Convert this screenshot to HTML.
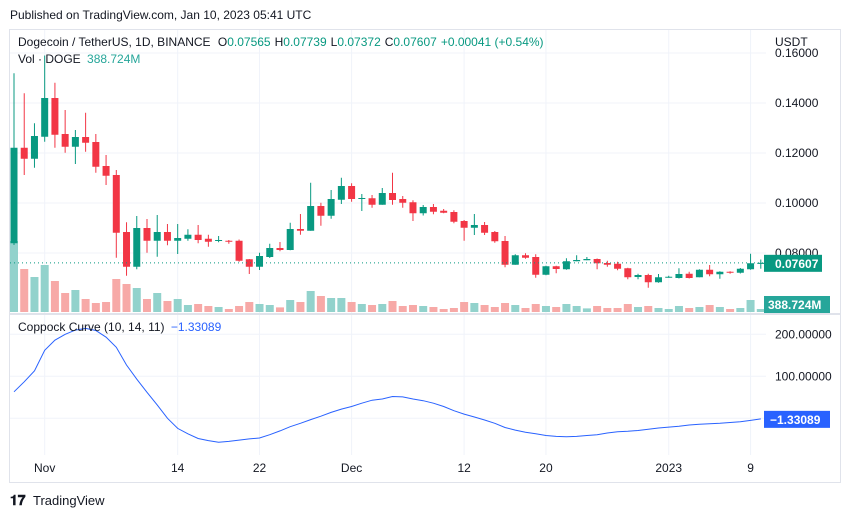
<!DOCTYPE html>
<html><head><meta charset="utf-8">
<style>
body{margin:0;background:#fff;width:851px;height:518px;overflow:hidden;font-family:"Liberation Sans",sans-serif;}
svg{display:block}
text{font-family:"Liberation Sans",sans-serif;}
</style></head>
<body>
<svg id="chart" width="851" height="518">
<text x="10" y="19" font-size="12" fill="#131722">Published on TradingView.com, Jan 10, 2023 05:41 UTC</text>
<rect x="9.5" y="29.5" width="831" height="453" fill="#fff" stroke="#e0e3eb"/>
<g id="grid"></g>
<g id="vol"></g>
<g id="candles"></g>
<g id="copp"></g>
<line x1="10" y1="314" x2="840" y2="314" stroke="#e0e3eb" stroke-width="2"/>
<g id="axes"></g>
<text x="18" y="46" font-size="12" fill="#131722">Dogecoin / TetherUS, 1D, BINANCE <tspan dx="4">O</tspan><tspan fill="#089981">0.07565</tspan><tspan dx="4">H</tspan><tspan fill="#089981">0.07739</tspan><tspan dx="4">L</tspan><tspan fill="#089981">0.07372</tspan><tspan dx="4">C</tspan><tspan fill="#089981">0.07607</tspan><tspan dx="4" fill="#089981">+0.00041 (+0.54%)</tspan></text>
<text x="18" y="63" font-size="12" fill="#131722">Vol · DOGE <tspan dx="3" fill="#26a69a">388.724M</tspan></text>
<text x="18" y="331" font-size="12" fill="#131722">Coppock Curve (10, 14, 11) <tspan dx="3" fill="#2962ff">−1.33089</tspan></text>
<text x="10" y="505" font-size="14" font-weight="bold" fill="#131722">𝟏𝟕</text>
<text x="33" y="505" font-size="13" fill="#131722">TradingView</text>
</svg>
<script>
const opens=[0.0839,0.1221,0.1177,0.1265,0.142,0.1276,0.1225,0.1264,0.1244,0.1148,0.1112,0.0884,0.0745,0.09,0.0849,0.0884,0.0849,0.0857,0.0873,0.0857,0.0848,0.0849,0.0849,0.0775,0.0745,0.0784,0.082,0.0812,0.0896,0.0889,0.0988,0.0949,0.1013,0.1068,0.1018,0.1019,0.0993,0.104,0.1016,0.1003,0.0959,0.0984,0.0969,0.0964,0.0928,0.0901,0.0912,0.0884,0.0848,0.0753,0.0791,0.0784,0.0713,0.0747,0.0735,0.0767,0.0771,0.0776,0.076,0.0757,0.0739,0.0704,0.0712,0.0683,0.0702,0.07,0.0717,0.0703,0.0733,0.0715,0.0725,0.0721,0.0735,0.07565];
const closes=[0.1221,0.1177,0.1268,0.142,0.1273,0.1225,0.1264,0.1241,0.1145,0.1109,0.0881,0.0745,0.09,0.0849,0.0884,0.0849,0.086,0.0873,0.0852,0.0845,0.0852,0.0846,0.0769,0.0745,0.0788,0.082,0.0812,0.0896,0.0889,0.0988,0.0949,0.1016,0.1068,0.1016,0.102,0.0993,0.104,0.1012,0.1001,0.0959,0.0984,0.0965,0.0961,0.0925,0.0901,0.0912,0.0881,0.0847,0.0753,0.0791,0.0781,0.0713,0.0747,0.0736,0.0767,0.0772,0.0776,0.0759,0.0753,0.0737,0.0703,0.0712,0.0683,0.0703,0.0705,0.0716,0.07,0.0733,0.0715,0.0725,0.0721,0.0737,0.0759,0.07607];
const highs=[0.1519,0.1439,0.1319,0.159,0.1481,0.1372,0.1292,0.1361,0.1276,0.1192,0.1132,0.0923,0.0948,0.0936,0.0952,0.0916,0.0916,0.0895,0.0912,0.0873,0.0868,0.0852,0.0854,0.0776,0.0801,0.0837,0.0844,0.0921,0.0956,0.1081,0.1001,0.1052,0.1101,0.1079,0.1036,0.1032,0.106,0.1121,0.1028,0.1011,0.0992,0.0996,0.0976,0.0971,0.0932,0.0956,0.0924,0.0888,0.0868,0.0795,0.0799,0.0795,0.0749,0.0749,0.0779,0.0791,0.0784,0.0778,0.0769,0.0765,0.0741,0.0717,0.0717,0.0716,0.0709,0.0739,0.0725,0.0735,0.0752,0.0727,0.0727,0.074,0.0797,0.07739];
const lows=[0.0832,0.1112,0.1141,0.1245,0.1221,0.1201,0.1156,0.1205,0.1121,0.1072,0.0781,0.0709,0.0735,0.0801,0.0785,0.0831,0.0796,0.0849,0.0839,0.0825,0.0843,0.0837,0.0765,0.0716,0.0732,0.078,0.0807,0.0811,0.0873,0.0889,0.0909,0.0937,0.0996,0.1005,0.0968,0.0981,0.0993,0.0993,0.0981,0.0928,0.095,0.0955,0.0959,0.0919,0.0849,0.0872,0.0872,0.0841,0.0743,0.0753,0.0777,0.0701,0.0711,0.0719,0.0733,0.0767,0.0771,0.0735,0.0745,0.0731,0.0695,0.0695,0.0661,0.0681,0.0701,0.0698,0.0698,0.0703,0.0707,0.0697,0.0717,0.0718,0.0733,0.07372];
const volumes=[9230,5590,4550,6110,4030,2470,2860,1690,1170,1300,4290,3640,3120,1690,2470,1430,1690,910,1040,780,650,390,780,1300,1040,910,600,1560,1300,2730,2080,1820,1820,1300,1040,910,1040,1430,780,910,780,650,390,520,1300,1170,910,650,1170,910,520,1040,780,650,1040,780,470,780,520,520,1040,650,780,520,390,780,520,650,910,650,390,520,1560,389];
const coppock=[63,87,113,162,186,200,210,214,209,193,169,127,93,62,32,0,-24,-37,-48,-53,-57,-55,-52,-49,-47,-39,-30,-20,-12,-3,5,14,22,28,36,43,46,52,51,46,42,36,28,18,10,3,-4,-12,-22,-28,-33,-37,-41,-43,-44,-43,-41,-39,-35,-32,-31,-29,-26,-23,-21,-19,-16,-14,-13,-12,-10,-8,-5,-1.33089];
const priceTicks=[0.08,0.10,0.12,0.14,0.16];
const coppTicks=[0,100,200];
const dateLabels=["Nov","14","22","Dec","12","20","2023","9"];
const dateIdx=[3,16,24,33,44,52,64,72];

const NS="http://www.w3.org/2000/svg";
const xOf=i=>14+i*10.23;
const yP=p=>253-(p-0.08)*2500;
const yV=v=>312-v/130;
const yC=c=>418.3-c*0.42;
const UP="#089981",DN="#f23645";
function mk(parent,tag,attrs){const e=document.createElementNS(NS,tag);for(const k in attrs)e.setAttribute(k,attrs[k]);document.getElementById(parent).appendChild(e);return e;}

// grid
priceTicks.forEach(p=>{const y=yP(p);
 const l=mk('grid','line',{x1:10,x2:766,y1:y,y2:y,stroke:'#f0f3fa'});
 
 
 const t=mk('axes','text',{x:775,y:y+4,'font-size':12,fill:'#131722'});t.textContent=p.toFixed(5);
 
 
});
coppTicks.forEach(c=>{const y=yC(c);
 const l=mk('grid','line',{x1:10,x2:766,y1:y,y2:y,stroke:'#f0f3fa'});
 
 
 if(c!==0){const t=mk('axes','text',{x:775,y:y+4,'font-size':12,fill:'#131722'});t.textContent=c.toFixed(5);
 
 }
});
dateIdx.forEach((d,k)=>{const x=xOf(d);
 const l=mk('grid','line',{x1:x,x2:x,y1:30,y2:455,stroke:'#f0f3fa'});
 
 
 const t=mk('axes','text',{x:x,y:472,'font-size':12,fill:'#131722','text-anchor':'middle'});t.textContent=dateLabels[k];
 
 
});
// usdt label
{const t=mk('axes','text',{x:775,y:46,'font-size':12,fill:'#131722'});t.textContent='USDT';

}

// volume
volumes.forEach((v,i)=>{const up=closes[i]>=opens[i];const y=yV(v);
 const r=mk('vol','rect',{x:xOf(i)-4,y:y,width:8,height:312-y,fill:up?'#92d2cc':'#f7a9a7'});
 
 
});
// candles
opens.forEach((o,i)=>{const c=closes[i];const up=c>=o;const col=up?UP:DN;const x=xOf(i);
 const w=mk('candles','line',{x1:x,x2:x,y1:yP(highs[i]),y2:yP(lows[i]),stroke:col,'stroke-width':1});
 
 
 const t=Math.min(yP(o),yP(c)),b=Math.max(yP(o),yP(c));
 const r=mk('candles','rect',{x:x-3.5,y:t,width:7,height:Math.max(1,b-t),fill:col});
 
 
});
// last price line
{const y=yP(closes[closes.length-1]);
const l=mk('candles','line',{x1:10,x2:766,y1:y,y2:y,stroke:UP,'stroke-dasharray':'1 3'});


const r=mk('axes','rect',{x:764,y:y-8,width:58,height:17,fill:UP});


const t=mk('axes','text',{x:775,y:y+5,'font-size':12,'font-weight':'bold',fill:'#fff'});t.textContent=closes[closes.length-1].toFixed(5);


const vy=yV(volumes[volumes.length-1]);
const r2=mk('axes','rect',{x:764,y:296,width:66,height:17,fill:'#26a69a'});


const t2=mk('axes','text',{x:768,y:309,'font-size':12,'font-weight':'bold',fill:'#fff'});t2.textContent='388.724M';

}
// coppock
{const d=coppock.map((c,i)=>(i?'L':'M')+xOf(i).toFixed(1)+' '+yC(c).toFixed(1)).join(' ');
const p=mk('copp','path',{d:d,fill:'none',stroke:'#2962ff','stroke-width':1});


const y=yC(coppock[coppock.length-1]);
const r=mk('axes','rect',{x:764,y:y-8,width:66,height:17,fill:'#2962ff'});


const t=mk('axes','text',{x:770,y:y+5,'font-size':12,'font-weight':'bold',fill:'#fff'});t.textContent='−1.33089';

}
</script>
</body></html>
